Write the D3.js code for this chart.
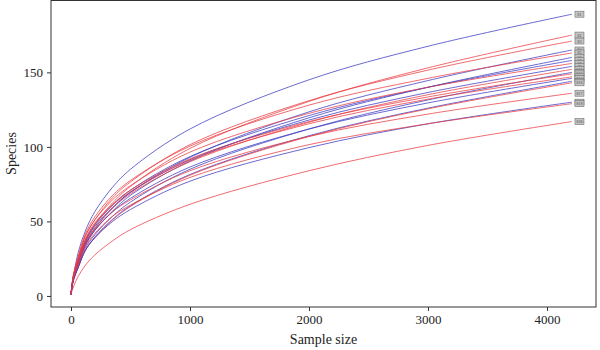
<!DOCTYPE html>
<html>
<head>
<meta charset="utf-8">
<script src="https://cdn.jsdelivr.net/npm/d3@7"></script>
<style>
  body { margin: 0; background: #fff; }
  text { font-family: "Liberation Serif", "DejaVu Serif", serif; }
</style>
</head>
<body>
<svg id="chart" width="600" height="350"></svg>
<script>
// sample sizes where each curve was read
var sizes = [0, 20, 60, 120, 200, 350, 500, 1000, 2000, 3000, 4210];

// sample names, colour group and species counts
var names = ["S1","S2","S3","S4","S5","S6","S7","S8","S9","S10",
             "S11","S12","S13","S14","S15","S16","S17","S18","S19","S20"];
var groups = ["B","R","R","B","R","B","B","R","B","R",
              "B","R","R","B","B","R","R","B","R","R"];
var species = [
  [1, 12.5, 29, 43.5, 56.5, 73, 85, 112, 145, 167.5, 189],
  [1, 12.5, 23.5, 37, 48, 62.5, 73.5, 99, 130.5, 153, 175],
  [1, 13.5, 25, 40, 51, 66, 76.5, 101.5, 131, 151.5, 171],
  [1, 12, 22, 35, 45, 59, 69.5, 93, 123.5, 144.5, 165],
  [1, 14.5, 26.5, 41.5, 53, 67.5, 77.5, 100.5, 128, 146, 163],
  [1, 11.5, 21.5, 34, 44, 57, 67.5, 90.5, 119.5, 140, 160],
  [1, 12.5, 23, 37, 47.5, 61, 71, 93.5, 121, 140, 158],
  [1, 13.5, 25.5, 40, 51, 64.5, 74, 96.5, 122.5, 140, 156],
  [1, 12.5, 22.5, 36, 46.5, 59.5, 69.5, 91.5, 118, 136.5, 154],
  [1, 12, 22.5, 35.5, 45.5, 59, 68.5, 90, 116.5, 135, 152],
  [1, 11, 20, 32, 41, 53.5, 63, 85, 112, 131.5, 150],
  [1, 13, 24, 38, 49, 61.5, 71, 92, 117, 133.5, 149],
  [1, 13, 24, 37.5, 48, 61, 70, 91, 115.5, 132, 147],
  [1, 11.5, 21.5, 34, 44, 56.5, 65.5, 86.5, 112, 129.5, 146],
  [1, 10.5, 19, 30.5, 39.5, 51.5, 60.5, 81.5, 107.5, 126, 144],
  [1, 10.5, 19, 30.5, 39, 51, 60, 81, 107, 125.5, 143],
  [1, 12, 22, 35, 44.5, 56.5, 64.5, 84, 107, 122, 136],
  [1, 10.5, 19, 30.5, 39, 50, 58, 77, 99.5, 115.5, 130],
  [1, 11.5, 21, 33, 42, 53.5, 61, 79.5, 101.5, 115.5, 129],
  [1, 6, 13, 20.5, 27.5, 37, 44.5, 61.5, 84, 101, 117]
];
var xTicks = [0, 1000, 2000, 3000, 4000];
var yTicks = [0, 50, 100, 150];

var colors = {R: "#ea3a40", B: "#3838c2"};

var svg = d3.select("#chart");
var pLeft = 51, pRight = 596, pTop = 0.5, pBottom = 307;

var x = d3.scaleLinear().domain([-168, 4412]).range([pLeft, pRight]);
var y = d3.scaleLinear().domain([-7.4, 198.2]).range([pBottom, pTop]);

// curves
var line = d3.line()
    .x(function(d) { return x(d[0]); })
    .y(function(d) { return y(d[1]); })
    .curve(d3.curveCatmullRom.alpha(0.5));

species.forEach(function(vals, i) {
  var pts = sizes.map(function(s, j) { return [s, vals[j]]; });
  svg.append("path")
      .attr("d", line(pts))
      .attr("fill", "none")
      .attr("stroke", colors[groups[i]])
      .attr("stroke-opacity", 0.75)
      .attr("stroke-width", 1);
});

// end labels
var lastX = sizes[sizes.length - 1];
species.forEach(function(vals, i) {
  var g = svg.append("g")
      .attr("transform", "translate(" + (x(lastX) + 3) + "," + y(vals[vals.length - 1]) + ")");
  g.append("rect")
      .attr("x", 0).attr("y", -3)
      .attr("width", 9).attr("height", 6)
      .attr("fill", "#c4c4c4")
      .attr("stroke", "#707070")
      .attr("stroke-width", 0.6);
  g.append("text")
      .attr("x", 4.5).attr("y", 1.5)
      .attr("text-anchor", "middle")
      .attr("font-size", 4)
      .attr("fill", "#444")
      .text(names[i]);
});

// axes
svg.append("g")
    .attr("transform", "translate(0," + pBottom + ")")
    .call(d3.axisBottom(x).tickValues(xTicks).tickSize(4).tickPadding(4).tickFormat(d3.format("d")))
    .call(function(g) { g.select(".domain").remove(); })
    .call(function(g) {
      g.selectAll("line").attr("stroke", "#333");
      g.selectAll("text").attr("font-size", 13).attr("fill", "#222")
        .attr("font-family", "Liberation Serif, serif");
    });

svg.append("g")
    .attr("transform", "translate(" + pLeft + ",0)")
    .call(d3.axisLeft(y).tickValues(yTicks).tickSize(4).tickPadding(4))
    .call(function(g) { g.select(".domain").remove(); })
    .call(function(g) {
      g.selectAll("line").attr("stroke", "#333");
      g.selectAll("text").attr("font-size", 13).attr("fill", "#222")
        .attr("font-family", "Liberation Serif, serif");
    });

// frame
svg.append("rect")
    .attr("x", pLeft).attr("y", pTop)
    .attr("width", pRight - pLeft).attr("height", pBottom - pTop)
    .attr("fill", "none")
    .attr("stroke", "#333")
    .attr("stroke-width", 1);

// titles
svg.append("text")
    .attr("x", (pLeft + pRight) / 2).attr("y", 344)
    .attr("text-anchor", "middle")
    .attr("font-size", 14).attr("fill", "#222")
    .text("Sample size");

svg.append("text")
    .attr("transform", "translate(16," + (pBottom / 2) + ") rotate(-90)")
    .attr("text-anchor", "middle")
    .attr("font-size", 14).attr("fill", "#222")
    .text("Species");
</script>
</body>
</html>
